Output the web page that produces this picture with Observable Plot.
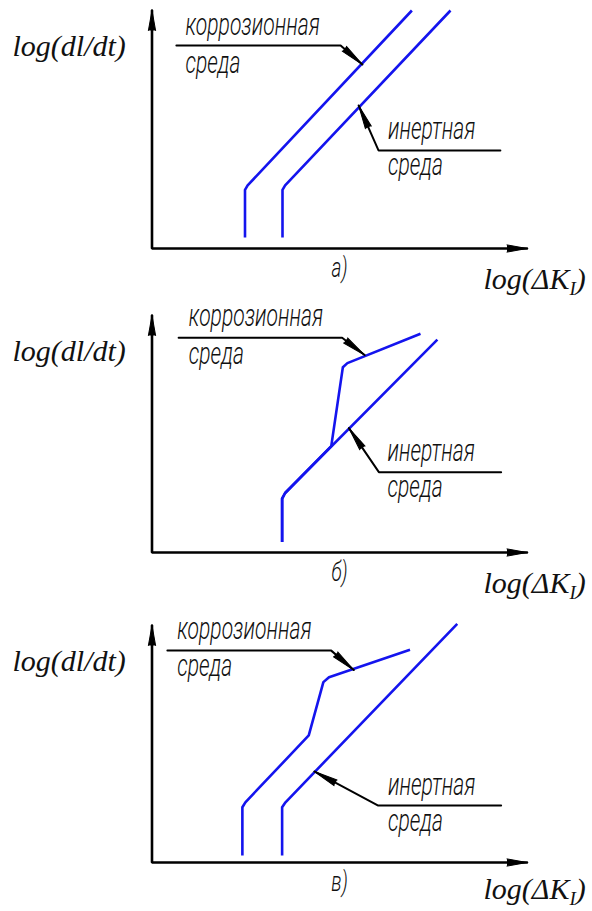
<!DOCTYPE html>
<html>
<head>
<meta charset="utf-8">
<script src="https://cdn.jsdelivr.net/npm/d3@7"></script>
<script src="https://cdn.jsdelivr.net/npm/@observablehq/plot@0.6"></script>
<style>
  html, body { margin: 0; padding: 0; background: #fff; overflow: hidden; }
  #chart svg { display: block; }
</style>
</head>
<body>
<div id="chart"></div>
<script>
// ---------- text ----------
const panelLabels = ["а)", "б)", "в)"];
const yLabel = "log(dl/dt)";
const xLabelMain = "log(ΔK";
const xLabelSub = "I";
const xLabelEnd = ")";
const corrosionText = ["коррозионная", "среда"];
const inertText = ["инертная", "среда"];

// ---------- curves: [log ΔK, log dl/dt] in arbitrary units (axes span 0..10) ----------
const corrosionA = [[2.48, 0.46], [2.48, 2.46], [2.55, 2.65], [6.93, 10.0]];
const inertA     = [[3.48, 0.46], [3.48, 2.46], [3.55, 2.65], [7.96, 10.0]];

const corrosionB = [[3.47, 0.44], [3.47, 2.27], [3.55, 2.51], [4.78, 4.49], [5.09, 7.82], [5.21, 7.99], [7.16, 9.23]];
const inertB     = [[3.47, 0.44], [3.47, 2.27], [3.55, 2.51], [7.61, 8.98]];

const corrosionC = [[2.41, 0.30], [2.41, 2.33], [2.49, 2.54], [4.18, 5.36], [4.57, 7.61], [4.72, 7.82], [6.88, 8.98]];
const inertC     = [[3.47, 0.30], [3.47, 2.33], [3.56, 2.54], [8.14, 10.07]];

// ---------- callout leaders (from shelf end to arrow tip on the curve) ----------
const corrosionLeaderA = [[0.65, 8.53], [5.03, 8.53], [5.61, 7.73]];
const inertLeaderA     = [[9.29, 4.12], [6.04, 4.12], [5.51, 6.01]];
const corrosionLeaderB = [[0.71, 9.06], [5.07, 9.06], [5.67, 8.33]];
const inertLeaderB     = [[9.31, 3.39], [6.05, 3.39], [5.25, 5.25]];
const corrosionLeaderC = [[0.41, 8.94], [4.78, 8.94], [5.38, 8.12]];
const inertLeaderC     = [[9.31, 2.41], [6.02, 2.41], [4.33, 3.84]];

// ---------- callout text anchors ----------
const corrosionTextA = [[0.89, 8.97], [0.89, 7.37]];
const inertTextA     = [[6.29, 4.58], [6.29, 3.07]];
const corrosionTextB = [[0.98, 9.54], [0.98, 7.97]];
const inertTextB     = [[6.28, 3.88], [6.28, 2.33]];
const corrosionTextC = [[0.67, 9.44], [0.67, 7.89]];
const inertTextC     = [[6.29, 2.83], [6.29, 1.32]];

// ---------- styles ----------
const BLUE = "#1414ee";
const INK = "#000";
const GOST = "Roboto, 'DejaVu Sans', sans-serif";
const SERIF = "'Liberation Serif', 'DejaVu Serif', serif";
const GOST_CONDENSE = 0.68;   // horizontal squeeze to imitate a narrow drafting font
const W = 592, ML = 151.5, MR = 65.5;

const panels = [
  {label: panelLabels[0], h: 305, mt: 10, mb: 57, xly: -1.69, corr: corrosionA, inert: inertA,
   cl: corrosionLeaderA, il: inertLeaderA, ct: corrosionTextA, it: inertTextA},
  {label: panelLabels[1], h: 305, mt: 10, mb: 58, xly: -1.69, corr: corrosionB, inert: inertB,
   cl: corrosionLeaderB, il: inertLeaderB, ct: corrosionTextB, it: inertTextB},
  {label: panelLabels[2], h: 301, mt: 15, mb: 49, xly: -1.55, corr: corrosionC, inert: inertC,
   cl: corrosionLeaderC, il: inertLeaderC, ct: corrosionTextC, it: inertTextC}
];

function headRotation(from, to, kx, ky) {
  const dx = (to[0] - from[0]) * kx;
  const dy = -(to[1] - from[1]) * ky;
  return Math.atan2(dx, -dy) * 180 / Math.PI;
}

function drawPanel(p) {
  const kx = (W - ML - MR) / 10;
  const ky = (p.h - p.mt - p.mb) / 10;
  const axisHeads = [
    {x: 0, y: 10, rot: 0},
    {x: 10, y: 0, rot: 90}
  ];
  const leaderHeads = [p.cl, p.il].map(L => {
    const a = L[L.length - 2], b = L[L.length - 1];
    return {x: b[0], y: b[1], rot: headRotation(a, b, kx, ky)};
  });
  const texts = [
    ...corrosionText.map((t, i) => ({t, x: p.ct[i][0], y: p.ct[i][1]})),
    ...inertText.map((t, i) => ({t, x: p.it[i][0], y: p.it[i][1]}))
  ];
  const svg = Plot.plot({
    width: W, height: p.h,
    marginLeft: ML, marginRight: MR, marginTop: p.mt, marginBottom: p.mb,
    x: {domain: [0, 10], axis: null},
    y: {domain: [0, 10], axis: null},
    style: {background: "#fff", overflow: "visible"},
    marks: [
      // axes
      Plot.line([[0, 10], [0, 0], [10, 0]], {stroke: INK, strokeWidth: 2.6, strokeLinejoin: "miter"}),
      Plot.vector(axisHeads, {x: "x", y: "y", rotate: "rot", length: 20, r: 3.6,
        shape: "spike", anchor: "end", fill: INK, stroke: INK, strokeWidth: 1, fillOpacity: 1}),
      // curves
      Plot.line(p.inert, {stroke: BLUE, strokeWidth: 2.6, strokeLinejoin: "round", strokeLinecap: "butt"}),
      Plot.line(p.corr, {stroke: BLUE, strokeWidth: 2.6, strokeLinejoin: "round", strokeLinecap: "butt"}),
      // callouts
      Plot.line(p.cl, {stroke: INK, strokeWidth: 2, strokeLinejoin: "miter"}),
      Plot.line(p.il, {stroke: INK, strokeWidth: 2, strokeLinejoin: "miter"}),
      Plot.vector(leaderHeads, {x: "x", y: "y", rotate: "rot", length: 24, r: 3.2,
        shape: "spike", anchor: "end", fill: INK, stroke: INK, strokeWidth: 1, fillOpacity: 1}),
      Plot.text(texts, {x: "x", y: "y", text: "t", textAnchor: "start", lineAnchor: "bottom",
        fontFamily: GOST, fontStyle: "italic", fontWeight: 300, fontSize: 31, fill: "#111", className: "gost"}),
      // panel label
      Plot.text([p.label], {x: 5.0, y: -1.2, text: d => d, textAnchor: "middle", lineAnchor: "bottom",
        fontFamily: GOST, fontStyle: "italic", fontWeight: 300, fontSize: 28, fill: "#111", className: "gost"}),
      // axis labels
      Plot.text([yLabel], {x: -3.72, y: 8.1, text: d => d, textAnchor: "start", lineAnchor: "bottom",
        fontFamily: SERIF, fontStyle: "italic", fontSize: 30, fill: "#111"}),
      Plot.text([xLabelMain], {x: 8.84, y: p.xly, text: d => d, textAnchor: "start", lineAnchor: "bottom",
        fontFamily: SERIF, fontStyle: "italic", fontSize: 30, fill: "#111"})
    ]
  });
  return svg;
}

const ns = "http://www.w3.org/2000/svg";
const root = document.getElementById("chart");
for (const p of panels) {
  const svg = drawPanel(p);
  root.appendChild(svg);
  // subscript for ΔK_I
  for (const t of svg.querySelectorAll("text")) {
    if (t.textContent === xLabelMain) {
      const sub = document.createElementNS(ns, "tspan");
      sub.setAttribute("dy", "6");
      sub.setAttribute("font-size", "19");
      sub.textContent = xLabelSub;
      const end = document.createElementNS(ns, "tspan");
      end.setAttribute("dy", "-6");
      end.textContent = xLabelEnd;
      t.appendChild(sub);
      t.appendChild(end);
    }
  }
  // condense drafting-style texts (narrow lettering)
  for (const t of svg.querySelectorAll(".gost text")) {
    const len = t.getComputedTextLength();
    t.setAttribute("textLength", (len * GOST_CONDENSE).toFixed(1));
    t.setAttribute("lengthAdjust", "spacingAndGlyphs");
  }
}
</script>
</body>
</html>
